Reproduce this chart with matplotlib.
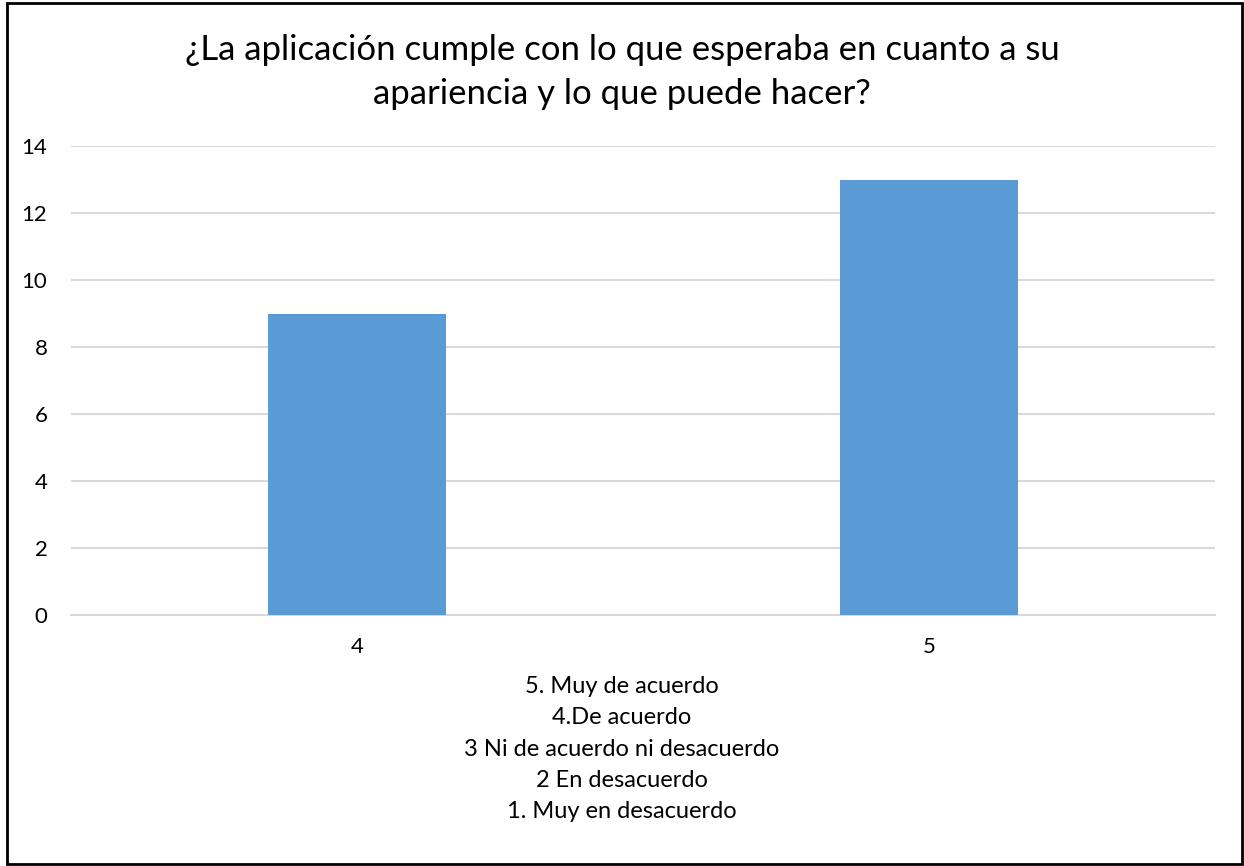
import matplotlib.pyplot as plt
from matplotlib.patches import Rectangle

# Respuestas de la encuesta (escala Likert)
categorias = ['4', '5']
respuestas = [9, 13]

titulo = '¿La aplicación cumple con lo que esperaba en cuanto a su\napariencia y lo que puede hacer?'
escala = ('5. Muy de acuerdo\n4.De acuerdo\n3 Ni de acuerdo ni desacuerdo\n'
          '2 En desacuerdo\n1. Muy en desacuerdo')

plt.rcParams['font.family'] = ['Lato', 'DejaVu Sans']

W, H = 1244, 866
fig = plt.figure(figsize=(W / 100, H / 100), dpi=100)
ax = fig.add_axes([71 / W, 1 - 615 / H, (1215 - 71) / W, (615 - 146) / H])

x = range(len(categorias))
ax.bar(x, respuestas, width=0.31, color='#5B9BD5', zorder=3)

ax.set_xlim(-0.5, 1.5)
ax.set_ylim(0, 14)
ax.set_yticks(range(0, 15, 2))
ax.set_xticks(list(x))
ax.set_xticklabels(categorias)
ax.tick_params(axis='both', length=0, labelsize=16, colors='#000000')
ax.tick_params(axis='y', pad=17)
ax.tick_params(axis='x', pad=16)

ax.grid(axis='y', color='#D9D9D9', linewidth=1.5, zorder=0)
for lado in ['top', 'right', 'left']:
    ax.spines[lado].set_visible(False)
ax.spines['bottom'].set_color('#D9D9D9')
ax.spines['bottom'].set_linewidth(1.5)

fig.text(0.5, 1 - 72 / H, titulo, ha='center', va='center', fontsize=25,
         linespacing=1.5)
fig.text(0.5, 1 - 749 / H, escala, ha='center', va='center', fontsize=17,
         linespacing=1.61)

# Marco negro alrededor del gráfico
fig.patches.append(Rectangle((7 / W, 2 / H), (1242 - 7) / W, (863 - 2) / H,
                             transform=fig.transFigure, fill=False,
                             edgecolor='black', linewidth=2))

fig.savefig('out.png', dpi=100)
